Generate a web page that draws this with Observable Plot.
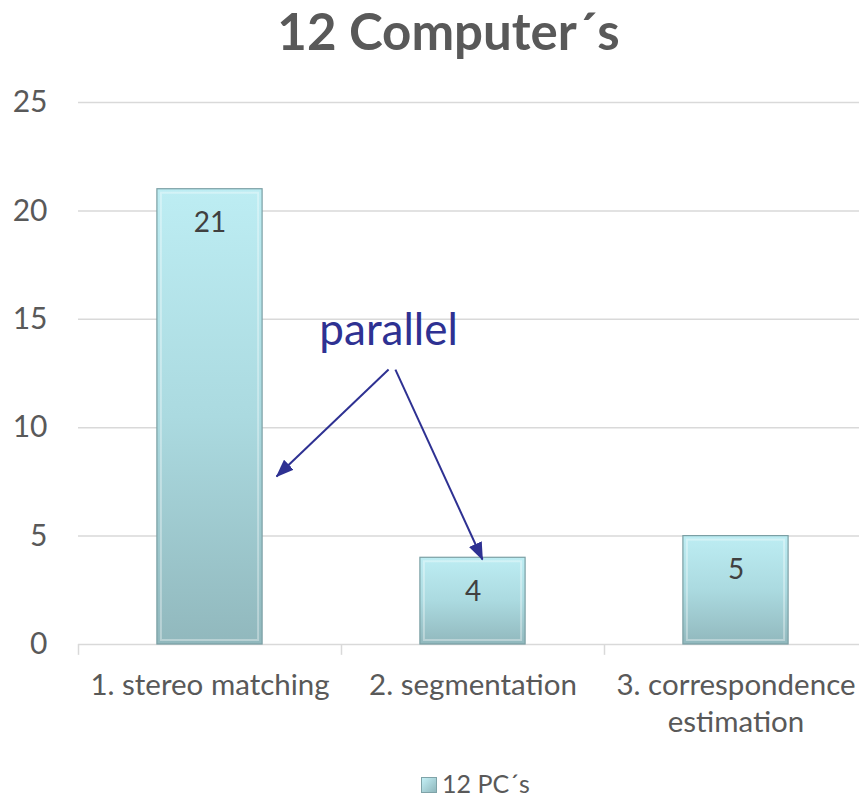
<!DOCTYPE html>
<html>
<head>
<meta charset="utf-8">
<script src="https://cdn.jsdelivr.net/npm/d3@7"></script>
<script src="https://cdn.jsdelivr.net/npm/@observablehq/plot@0.6"></script>
<style>
  html, body { margin: 0; padding: 0; background: #fff; }
  #wrap { position: relative; width: 859px; height: 799px; font-family: Lato, sans-serif; }
  #title { position: absolute; left: 0; top: 5px; width: 897px; text-align: center; font-size: 51px; line-height: 1; font-weight: 700; color: #595959; }
  #chart { position: absolute; left: 0; top: 80px; }
  #legend { position: absolute; left: 421px; top: 771px; font-size: 25px; line-height: 1; color: #595959; display: flex; align-items: center; }
  #legend .sw { width: 14px; height: 14px; margin-right: 5px; margin-top: 3px; border: 1px solid #7fa3a8; background: linear-gradient(135deg, #c4f0f6, #8fb7bc); }
</style>
</head>
<body>
<div id="wrap">
  <div id="title"></div>
  <div id="chart"></div>
  <div id="legend"><span class="sw"></span><span id="legendText"></span></div>
</div>
<script>
// ---- data ----
const titleText = "12 Computer´s";
const seriesName = "12 PC´s";
const categories = ["1. stereo matching", "2. segmentation", "3. correspondence\nestimation"];
const values = [21, 4, 5];
const yTicks = [0, 5, 10, 15, 20, 25];
const annotationText = "parallel";
const annotationPos = [{x: 0.679, y: 13.8}];
// arrows: x in category-index units, y in value units
const arrowStartX = [0.679, 0.705];
const arrowStartY = [12.68, 12.68];
const arrowEndX = [0.253, 1.036];
const arrowEndY = [7.75, 3.92];

document.getElementById("title").textContent = titleText;
document.getElementById("legendText").textContent = seriesName;

const bars = categories.map((c, i) => ({i, c, v: values[i]}));
const bounds = d3.range(categories.length + 1).map(k => k - 0.5);
const arrows = arrowStartX.map((_, k) => ({x1: arrowStartX[k], y1: arrowStartY[k], x2: arrowEndX[k], y2: arrowEndY[k]}));

const textColor = "#595959";
const annColor = "#2e3192";

const plot = Plot.plot({
  width: 859,
  height: 680,
  marginTop: 22,
  marginBottom: 116,
  marginLeft: 78,
  marginRight: 0,
  style: {fontFamily: "Lato, sans-serif", background: "transparent", overflow: "visible"},
  x: {domain: [-0.5, categories.length - 0.5], range: [78, 867], axis: null},
  y: {domain: [0, 25], axis: null},
  marks: [
    Plot.ruleY(yTicks, {stroke: "#d9d9d9", strokeWidth: 1.5}),
    Plot.ruleX(bounds, {x: d => d, y1: 0, y2: -0.5, stroke: "#d9d9d9", strokeWidth: 1.5}),
    Plot.text(yTicks, {x: -0.5, y: d => d, text: d => String(d), dx: -31, textAnchor: "end", fontSize: 30, fill: textColor}),
    Plot.text(bars, {x: "i", y: 0, text: "c", dy: 25, lineAnchor: "top", lineHeight: 1.24, textAnchor: "middle", fontSize: 29.5, fill: textColor}),
    Plot.rectY(bars, {x1: d => d.i - 0.2, x2: d => d.i + 0.2, y1: 0, y2: "v", fill: "url(#barGrad)", stroke: "#7b9fa4", strokeWidth: 1.2}),
    Plot.rectY(bars, {x1: d => d.i - 0.2, x2: d => d.i + 0.2, y1: 0, y2: "v", inset: 4, fill: "none", stroke: "rgba(255,255,255,0.35)", strokeWidth: 2}),
    Plot.text(bars, {x: "i", y: "v", text: d => String(d.v), dy: 34, textAnchor: "middle", fontSize: 28, fill: "#404040"}),
    Plot.text(annotationPos, {x: "x", y: "y", text: () => annotationText, lineAnchor: "bottom", textAnchor: "middle", fontSize: 44, fill: annColor}),
    Plot.link(arrows, {x1: "x1", y1: "y1", x2: "x2", y2: "y2", stroke: annColor, strokeWidth: 2})
  ]
});

// defs: gradient for bars and filled arrowhead marker
const ns = "http://www.w3.org/2000/svg";
const defs = document.createElementNS(ns, "defs");
defs.innerHTML = `
  <linearGradient id="barGrad" x1="0" y1="0" x2="0" y2="1">
    <stop offset="0" stop-color="#bdedf3"/>
    <stop offset="0.5" stop-color="#abdae0"/>
    <stop offset="1" stop-color="#91b8bd"/>
  </linearGradient>
  <marker id="arrowHead" viewBox="0 0 18 14" refX="17" refY="7" markerWidth="18" markerHeight="14" markerUnits="userSpaceOnUse" orient="auto">
    <path d="M0,0L18,7L0,14z" fill="${annColor}"/>
  </marker>`;
plot.insertBefore(defs, plot.firstChild);
plot.querySelectorAll('g[aria-label="link"] path').forEach(p => p.setAttribute("marker-end", "url(#arrowHead)"));

document.getElementById("chart").appendChild(plot);
</script>
</body>
</html>
